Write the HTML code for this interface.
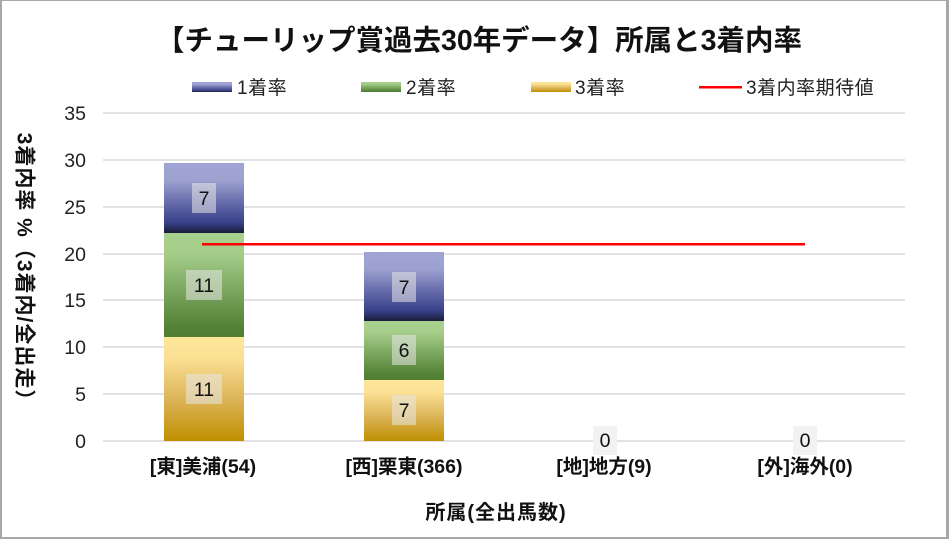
<!DOCTYPE html>
<html><head><meta charset="utf-8">
<style>
html,body{margin:0;padding:0;background:#fff;}
svg{display:block;}
text{font-family:"Liberation Sans","Noto Sans CJK JP",sans-serif;}
</style></head>
<body>
<svg width="949" height="539" viewBox="0 0 949 539" xmlns="http://www.w3.org/2000/svg">
<defs>
<linearGradient id="gb" x1="0" y1="0" x2="0" y2="1">
<stop offset="0" stop-color="#a1a5d5"/><stop offset="0.25" stop-color="#9da1d0"/><stop offset="0.55" stop-color="#686dac"/><stop offset="0.85" stop-color="#39428a"/><stop offset="1" stop-color="#1b1b38"/>
</linearGradient>
<linearGradient id="gg" x1="0" y1="0" x2="0" y2="1">
<stop offset="0" stop-color="#a9d18e"/><stop offset="0.2" stop-color="#a5cd8a"/><stop offset="0.6" stop-color="#75a15a"/><stop offset="0.9" stop-color="#548235"/><stop offset="1" stop-color="#507e32"/>
</linearGradient>
<linearGradient id="gy" x1="0" y1="0" x2="0" y2="1">
<stop offset="0" stop-color="#ffe699"/><stop offset="0.2" stop-color="#fbe094"/><stop offset="0.6" stop-color="#dcb458"/><stop offset="1" stop-color="#bf8f00"/>
</linearGradient>
</defs>
<rect x="0" y="0" width="949" height="539" fill="#fff"/>
<!-- border -->
<rect x="0" y="0" width="949" height="1" fill="#aaa6a6"/>
<rect x="0" y="0" width="2" height="539" fill="#aaa6a6"/>
<rect x="946" y="0" width="3" height="539" fill="#aaa6a6"/>
<rect x="0" y="537" width="949" height="2" fill="#aaa6a6"/>

<!-- title -->
<text x="479" y="50" font-size="28.5" font-weight="bold" text-anchor="middle" fill="#111">【チューリップ賞過去30年データ】所属と3着内率</text>

<!-- legend -->
<rect x="192" y="82" width="40" height="10" fill="url(#gb)"/>
<text x="237" y="94" font-size="19" fill="#222" letter-spacing="0.5">1着率</text>
<rect x="361" y="82" width="40" height="10" fill="url(#gg)"/>
<text x="406" y="94" font-size="19" fill="#222" letter-spacing="0.5">2着率</text>
<rect x="531" y="82" width="40" height="10" fill="url(#gy)"/>
<text x="575" y="94" font-size="19" fill="#222" letter-spacing="0.5">3着率</text>
<rect x="699" y="86" width="43" height="2.5" fill="#ff0000"/>
<text x="746" y="94" font-size="19" fill="#222" letter-spacing="0.5">3着内率期待値</text>

<!-- gridlines -->
<g stroke="#d9d9d9" stroke-width="1.6">
<line x1="103" y1="113" x2="905" y2="113"/>
<line x1="103" y1="160" x2="905" y2="160"/>
<line x1="103" y1="207" x2="905" y2="207"/>
<line x1="103" y1="254" x2="905" y2="254"/>
<line x1="103" y1="300" x2="905" y2="300"/>
<line x1="103" y1="347" x2="905" y2="347"/>
<line x1="103" y1="394" x2="905" y2="394"/>
<line x1="103" y1="441" x2="905" y2="441"/>
</g>

<!-- y tick labels -->
<g font-size="19.5" fill="#222" text-anchor="end">
<text x="86" y="120">35</text>
<text x="86" y="167">30</text>
<text x="86" y="214">25</text>
<text x="86" y="261">20</text>
<text x="86" y="307">15</text>
<text x="86" y="354">10</text>
<text x="86" y="401">5</text>
<text x="86" y="448">0</text>
</g>

<!-- bars -->
<rect x="164" y="337" width="80" height="104" fill="url(#gy)"/>
<rect x="164" y="233" width="80" height="104" fill="url(#gg)"/>
<rect x="164" y="163" width="80" height="70" fill="url(#gb)"/>

<rect x="364" y="380" width="80" height="61" fill="url(#gy)"/>
<rect x="364" y="321" width="80" height="59" fill="url(#gg)"/>
<rect x="364" y="252" width="80" height="69" fill="url(#gb)"/>

<!-- red line -->
<line x1="202" y1="244.3" x2="805" y2="244.3" stroke="#ff0000" stroke-width="2.5"/>

<!-- data labels -->
<g fill="rgba(232,232,232,0.55)">
<rect x="192" y="183" width="24" height="30"/>
<rect x="186" y="270" width="36" height="30"/>
<rect x="186" y="374" width="36" height="30"/>
<rect x="392" y="272" width="24" height="30"/>
<rect x="392" y="335" width="24" height="30"/>
<rect x="392" y="395" width="24" height="30"/>
</g>
<rect x="593" y="426" width="24" height="29" fill="#f2f2f2"/>
<rect x="793" y="426" width="24" height="29" fill="#f2f2f2"/>
<g font-size="19.5" fill="#111" text-anchor="middle">
<text x="204" y="205">7</text>
<text x="204" y="292">11</text>
<text x="204" y="396">11</text>
<text x="404" y="294">7</text>
<text x="404" y="357">6</text>
<text x="404" y="417">7</text>
<text x="605" y="447">0</text>
<text x="805" y="447">0</text>
</g>

<!-- category labels -->
<g font-size="19.5" font-weight="bold" fill="#111" text-anchor="middle">
<text x="203" y="473">[東]美浦(54)</text>
<text x="404" y="473">[西]栗東(366)</text>
<text x="604" y="473">[地]地方(9)</text>
<text x="805" y="473">[外]海外(0)</text>
</g>

<!-- axis titles -->
<text x="496" y="519" font-size="20" font-weight="bold" fill="#111" text-anchor="middle" letter-spacing="1">所属(全出馬数)</text>
<text x="0" y="0" font-size="21" font-weight="bold" fill="#111" text-anchor="middle" dominant-baseline="central" letter-spacing="1" transform="translate(24,272) rotate(90)">3着内率 %（3着内/全出走）</text>
</svg>
</body></html>
